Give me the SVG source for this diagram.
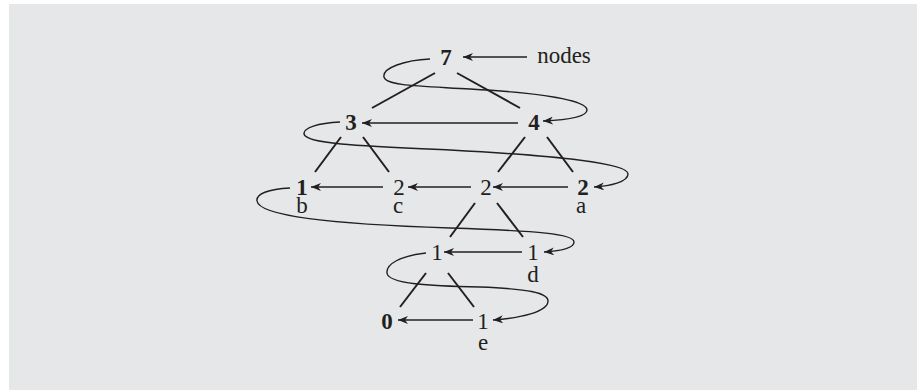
<svg xmlns="http://www.w3.org/2000/svg" width="917" height="390" viewBox="0 0 917 390">
<defs>
<style>
.bg{fill:#e6e7e8}
.t{font-family:"Liberation Serif","Times New Roman",serif;font-size:23px;fill:#231f20;text-anchor:middle}
.b{font-weight:bold}
.e{stroke:#231f20;stroke-width:2;fill:none}
.a{stroke:#231f20;stroke-width:1.6;fill:none;marker-end:url(#ah)}
.l{stroke:#231f20;stroke-width:1.4;fill:none;marker-end:url(#ah)}
</style>
<marker id="ah" viewBox="0 0 10 8" refX="10" refY="4" markerWidth="10" markerHeight="8" markerUnits="userSpaceOnUse" orient="auto">
<path d="M0,0 L10,4 L0,8 L3,4 Z" fill="#231f20"/>
</marker>
</defs>
<rect class="bg" x="9" y="4" width="908" height="386"/>
<g id="connectors">
<line class="e" x1="435" y1="73" x2="372" y2="108"/>
<line class="e" x1="457" y1="73" x2="520" y2="108"/>
<line class="e" x1="341" y1="137" x2="315" y2="172"/>
<line class="e" x1="363" y1="137" x2="389" y2="172"/>
<line class="e" x1="525" y1="137" x2="498" y2="172"/>
<line class="e" x1="547" y1="137" x2="573" y2="172"/>
<line class="e" x1="475" y1="203" x2="450" y2="237"/>
<line class="e" x1="497" y1="203" x2="523" y2="237"/>
<line class="e" x1="426" y1="273" x2="400" y2="307"/>
<line class="e" x1="448" y1="273" x2="474" y2="307"/>
<line class="a" x1="527" y1="57" x2="463" y2="57"/>
<line class="a" x1="518" y1="123" x2="362" y2="123"/>
<line class="a" x1="383" y1="187" x2="311" y2="187"/>
<line class="a" x1="471" y1="187" x2="408" y2="187"/>
<line class="a" x1="568" y1="187" x2="493" y2="187"/>
<line class="a" x1="522" y1="252" x2="444" y2="252"/>
<line class="a" x1="473" y1="320" x2="398" y2="320"/>
<path class="l" d="M430,59 C405,60 382,68 384,77 C386,86 420,86 470,89 C540,93 587,100 587,110 C587,117 565,120 543,121"/>
<path class="l" d="M340,122 C318,123 303,128 304,134 C306,144 360,146 450,150 C560,156 628,163 628,174 C628,182 610,186 594,187"/>
<path class="l" d="M290,188 C268,189 256,194 257,201 C259,216 330,224 450,228 C540,231 574,234 574,242 C574,248 560,251 544,252"/>
<path class="l" d="M426,253 C400,256 386,264 387,273 C388,284 430,286 480,287 C530,289 548,293 548,301 C548,312 520,318 493,320"/>
</g>
<g id="n7"><text class="t b" x="446" y="65">7</text></g>
<g id="label-nodes"><text class="t" x="564" y="63">nodes</text></g>
<g id="n3"><text class="t b" x="351" y="130">3</text></g>
<g id="n4"><text class="t b" x="534" y="130">4</text></g>
<g id="nb"><text class="t b" x="302" y="195">1</text><text class="t" x="302" y="213">b</text></g>
<g id="nc"><text class="t" x="399" y="195">2</text><text class="t" x="398" y="213">c</text></g>
<g id="nm"><text class="t" x="486" y="195">2</text></g>
<g id="na"><text class="t b" x="583" y="195">2</text><text class="t" x="581" y="213">a</text></g>
<g id="n1l"><text class="t" x="437" y="260">1</text></g>
<g id="nd"><text class="t" x="533" y="260">1</text><text class="t" x="533" y="282">d</text></g>
<g id="n0"><text class="t b" x="387" y="329">0</text></g>
<g id="ne"><text class="t" x="483" y="329">1</text><text class="t" x="483" y="350">e</text></g>
</svg>
